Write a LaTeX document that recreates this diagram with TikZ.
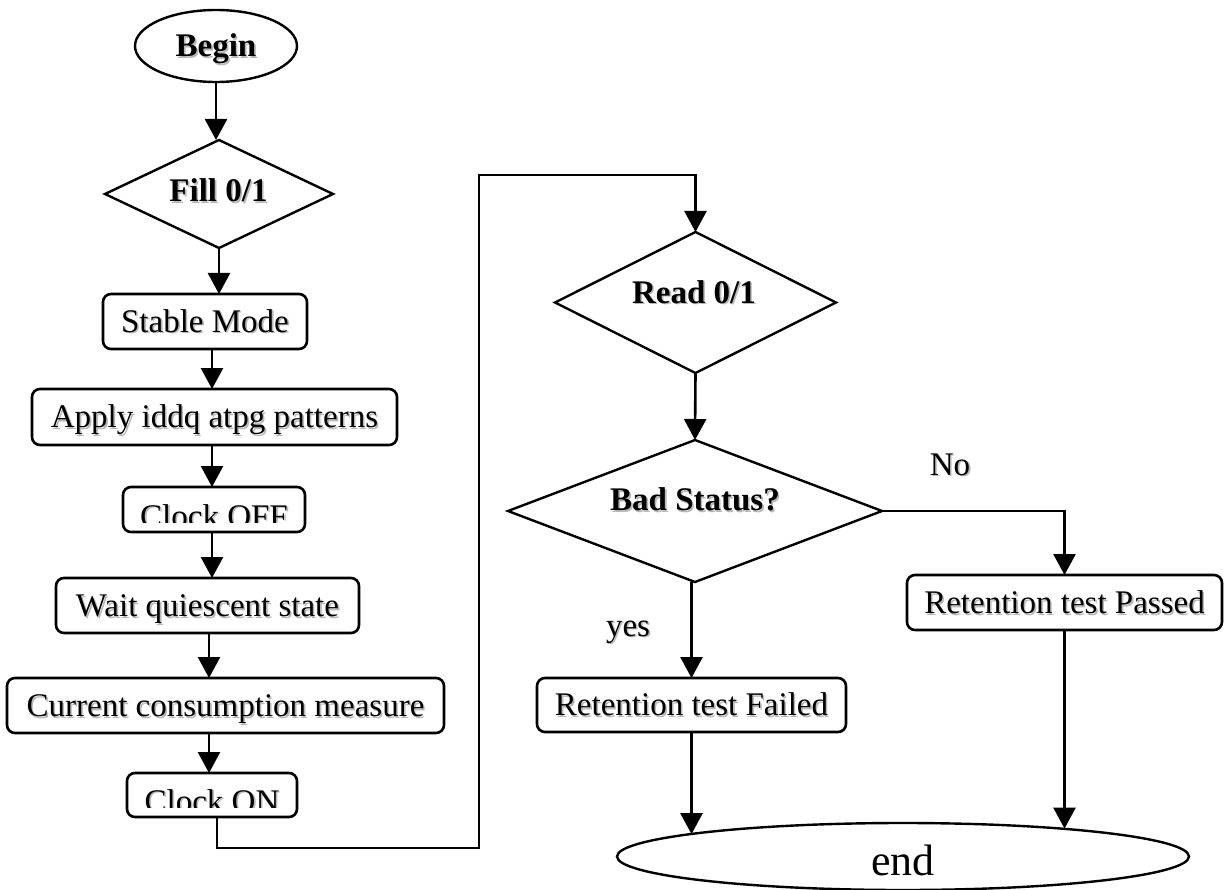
\documentclass[tikz,border=0pt]{standalone}
\usepackage{fontspec}
\setmainfont{Liberation Serif}
\usetikzlibrary{shapes.geometric,arrows.meta}

% text with a soft grey drop shadow behind it
\newcommand\shd[1]{\rlap{\kern1.6pt\raisebox{-1.6pt}{\color{black!28}#1}}#1}

\begin{document}
\begin{tikzpicture}[x=1pt,y=-1pt,
  every node/.style={inner sep=0pt, outer sep=0pt, text height=21.8pt, text depth=0pt},
  txt/.style={font=\fontsize{33}{40}\selectfont},
  btxt/.style={font=\fontsize{33}{40}\selectfont\bfseries},
  box/.style={draw, line width=2.6pt, rounded corners=8pt, txt},
  oval/.style={draw, ellipse, line width=2.4pt},
  decision/.style={draw, diamond, line width=2.4pt},
  flow/.style={line width=2.6pt, -{Triangle[length=21pt,width=22pt]}},
]
\fill[white] (0,0) rectangle (1228,890);
\useasboundingbox (0,0) rectangle (1228,890);

% left column: preparation steps
\node[oval, btxt, minimum width=162pt, minimum height=72pt] (begin) at (216,46) {\shd{Begin}};
\node[decision, minimum width=228pt, minimum height=108pt] (fill) at (219,194) {};
\node[btxt] (filltxt) at (218.5,191) {\shd{Fill 0/1}};
\node[box, minimum width=204pt, minimum height=55pt] (stable) at (205,321.5) {\shd{Stable Mode}};
\node[box, minimum width=365pt, minimum height=56pt] (apply) at (214.5,417) {\shd{Apply iddq atpg patterns}};
\node[box, minimum width=182pt, minimum height=45pt] (clockoff) at (214,509.5) {};
\begin{scope}
  \clip (100,480) rectangle (330,522);
  \node[txt, anchor=base] (offtxt) at (214,527) {\shd{Clock OFF}};
\end{scope}
\node[box, minimum width=303pt, minimum height=55pt] (wait) at (207.5,605.5) {\shd{Wait quiescent state}};
\node[box, minimum width=437pt, minimum height=55pt] (current) at (225.5,705.5) {\shd{Current consumption measure}};
\node[box, minimum width=170pt, minimum height=44pt] (clockon) at (212,795) {};
\begin{scope}
  \clip (100,770) rectangle (330,807.5);
  \node[txt, anchor=base] (ontxt) at (212,812) {\shd{Clock ON}};
\end{scope}

% right column: read back and verdict
\node[decision, minimum width=281pt, minimum height=141pt] (read) at (695.5,302.5) {};
\node[btxt] (readtxt) at (694,292.5) {\shd{Read 0/1}};
\node[decision, minimum width=374pt, minimum height=142pt] (bad) at (695,511) {};
\node[btxt] (badtxt) at (695,500) {\shd{Bad Status?}};
\node[box, minimum width=315pt, minimum height=55pt] (passed) at (1064.5,602.5) {\shd{Retention test Passed}};
\node[box, minimum width=309pt, minimum height=54pt] (failed) at (691.5,705) {\shd{Retention test Failed}};
\node[oval, font=\fontsize{44}{52}\selectfont, text height=37pt, minimum width=572pt, minimum height=67pt] (end) at (903,856.5) {end};
\node[txt, anchor=base] (no) at (950,475) {\shd{No}};
\node[txt, anchor=base] (yes) at (628,636) {\shd{yes}};

% connectors
\coordinate (lb) at (479,848);
\coordinate (lt) at (479,175);
\draw[flow] (begin.south) -- (begin.south |- fill.north);
\draw[flow] (fill.south) -- (fill.south |- stable.north);
\draw[flow] ([xshift=7pt]stable.south) -- ([xshift=-2.5pt]apply.north);
\draw[flow] ([xshift=-2.5pt]apply.south) -- ([xshift=-2pt]clockoff.north);
\draw[flow] ([xshift=-2pt]clockoff.south) -- ([xshift=4.5pt]wait.north);
\draw[flow] ([xshift=1.5pt]wait.south) -- ([xshift=-16.5pt]current.north);
\draw[flow] ([xshift=-16.5pt]current.south) -- ([xshift=-3pt]clockon.north);
\draw[flow] ([xshift=5pt]clockon.south) |- (lb) -- (lt) -| (read.north);
\draw[flow] (read.south) -- (bad.north);
\draw[flow] (bad.east) -| (passed.north);
\draw[flow] (failed.north |- bad.south) -- (failed.north);
\draw[flow] (failed.south) -- (failed.south |- end.174);
\draw[flow] (passed.south) -- (passed.south |- end.10);
\end{tikzpicture}
\end{document}
